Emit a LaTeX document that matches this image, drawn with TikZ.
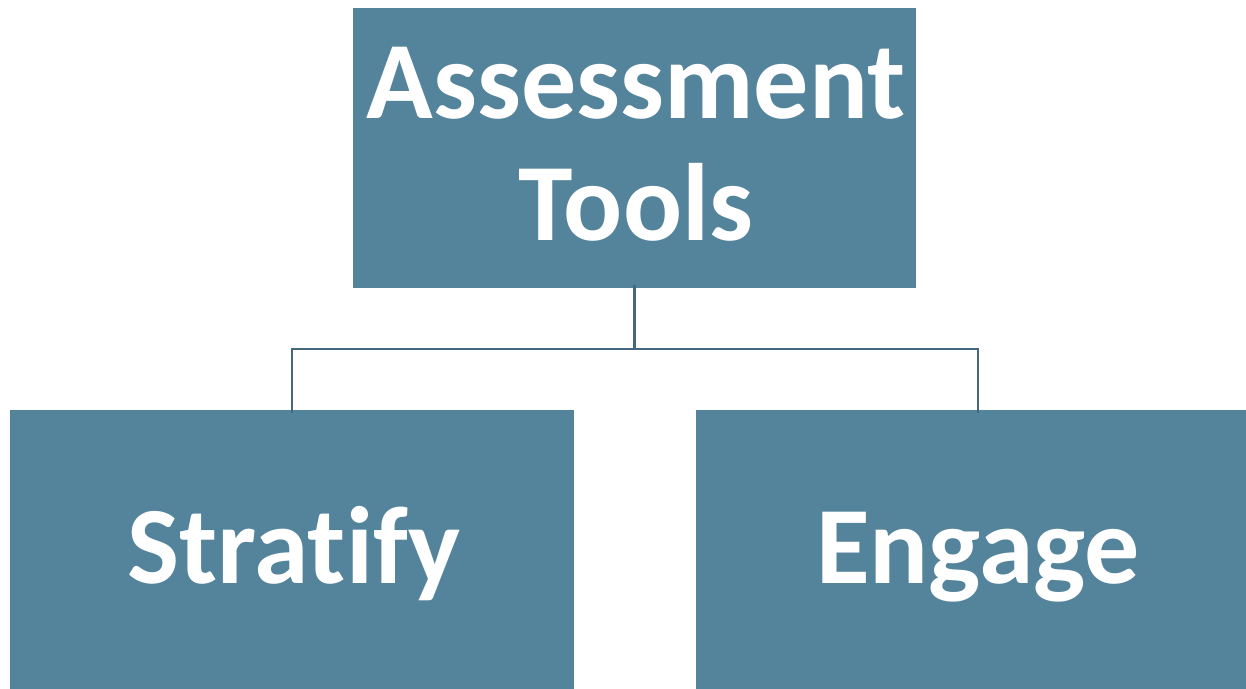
\documentclass[tikz,border=0pt]{standalone}
\usepackage{fontspec}
\setmainfont{Carlito}[Ligatures={NoCommon}]
\definecolor{boxfill}{HTML}{53849C}
\definecolor{linecol}{HTML}{44697E}
\begin{document}
\begin{tikzpicture}[x=1pt,y=-1pt,
  box/.style={fill=boxfill, draw=none, inner sep=0pt},
  lbl/.style={text=white, inner sep=0pt, anchor=base,
    font=\bfseries\fontsize{110}{122}\selectfont},
  conn/.style={draw=linecol, line width=2.4pt}]
\useasboundingbox (0,0) rectangle (1246,688);
\clip (0,0) rectangle (1246,688);
\node[box, minimum width=563pt, minimum height=280pt] (top) at (634.5,148) {};
\node[box, minimum width=564pt, minimum height=280pt] (left) at (292,550) {};
\node[box, minimum width=564pt, minimum height=280pt] (right) at (978,550) {};
\node[lbl] (t1) at (636,118) {Assessment};
\node[lbl] (t2) at (636,240) {Tools};
\node[lbl] (t3) at (294,583) {Stratify};
\node[lbl] (t4) at (978,583) {Engage};
\coordinate (mid) at (634.5,349);
\draw[conn] ([yshift=3pt]top.south) -- (mid);
\draw[conn] (mid) -| ([yshift=-3pt]left.north);
\draw[conn] (mid) -| ([yshift=-3pt]right.north);
\end{tikzpicture}
\end{document}
